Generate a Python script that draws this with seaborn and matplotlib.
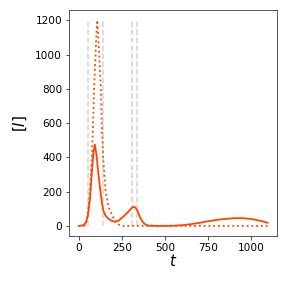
import seaborn as sns
from matplotlib import pyplot as plt

# solid curve: infected over time
t_solid = [0, 20, 36, 46, 56, 66, 76, 85, 94, 103, 113, 123, 133, 142, 156, 171, 190, 209,
           230, 258, 280, 296, 308, 319, 330, 342, 354, 366, 380, 392, 410, 450, 500, 550,
           600, 650, 700, 750, 800, 850, 900, 950, 1000, 1050, 1095]
i_solid = [0, 2, 10, 30, 72, 160, 300, 420, 475, 420, 320, 229, 150, 92, 60, 43, 30, 24,
           30, 53, 75, 92, 105, 112, 105, 85, 53, 30, 14, 5, 1, 0, 0, 1,
           4, 10, 18, 27, 35, 41, 45, 45, 40, 30, 18]

# dotted curve: uncontrolled peak
t_dot = [0, 30, 40, 50, 58, 65, 71, 77, 84, 90, 98, 103, 108, 113, 119, 129, 134, 142,
         150, 157, 167, 177, 200, 220, 238, 260, 300, 1095]
i_dot = [0, 0, 2, 50, 120, 200, 300, 400, 600, 800, 1000, 1120, 1200, 1120, 1000, 800, 600, 400,
         290, 200, 140, 100, 50, 15, 5, 0, 0, 0]

# intervention boundaries
t_marks = [56, 144, 308, 336]

sns.set_style("ticks")
plt.rcParams.update({"text.color": "black", "axes.labelcolor": "black",
                     "xtick.labelcolor": "black", "ytick.labelcolor": "black"})
fig, ax = plt.subplots(figsize=(4, 4), dpi=72)

ax.vlines(t_marks, 0, 1200, colors="lightgrey", linestyles="--", linewidth=1.5)
sns.lineplot(x=t_solid, y=i_solid, color="orangered", linewidth=1.8, ax=ax)
sns.lineplot(x=t_dot, y=i_dot, color="orangered", linewidth=1.8, linestyle=":", ax=ax)

ax.set_xticks([0, 250, 500, 750, 1000])
ax.set_yticks([0, 200, 400, 600, 800, 1000, 1200])
ax.tick_params(labelsize=10.5)
ax.set_xlabel("$t$", fontsize=15, labelpad=0)
ax.set_ylabel("$[I]$", fontsize=15, labelpad=6)
for s in ax.spines.values():
    s.set_color("0.2")

fig.subplots_adjust(left=0.24, right=0.963, top=0.965, bottom=0.18)
fig.savefig("out.png", dpi=72)
